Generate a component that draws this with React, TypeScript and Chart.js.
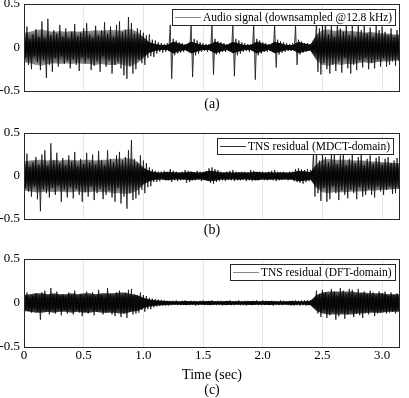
import React, { useEffect, useRef } from 'react';
import { Chart, registerables } from 'chart.js';
Chart.register(...registerables);

// ---------- data ----------
const SAMPLE_STEP = 0.0125; // s between successive waveform peaks
const BAND_STEP = 0.05; // s between dense-band envelope samples
const T_MAX = 3.15;
const X_TICK_STEP = 0.5;
const Y_MIN = -0.5;
const Y_MAX = 0.5;
const Y_TICK_STEP = 0.5;

const panelLabels = ['(a)', '(b)', '(c)'];
const xAxisLabel = 'Time (sec)';
const legendLabels = [
  'Audio signal (downsampled @12.8 kHz)',
  'TNS residual (MDCT-domain)',
  'TNS residual (DFT-domain)',
];

// (a) audio signal: signed peak values
const audioPeaks = [
  .18, -.12, .24, -.2, .09, -.25, .15, -.1, .21, -.17,
  .12, -.26, .3, -.15, .1, -.35, .33, -.2, .14, -.28,
  .2, -.12, .16, -.22, .26, -.1, .12, -.19, .22, -.15,
  .1, -.24, .18, -.14, .27, -.2, .13, -.27, .17, -.11,
  .22, -.18, .28, -.13, .15, -.26, .11, -.21, .25, -.16,
  .14, -.28, .2, -.1, .29, -.22, .16, -.15, .24, -.3,
  .12, -.2, .26, -.17, .3, -.24, .18, -.32, .2, -.36,
  .35, -.22, .28, -.3, .16, -.25, .22, -.14, .2, -.18,
  .17, -.2, .14, -.12, .15, -.1, .09, -.11, .08, -.07,
  .06, -.05, .05, -.06, .04, -.05, .05, -.04, .26, -.36,
  .1, -.09, .08, -.07, .06, -.06, .05, -.05, .04, -.04,
  .05, -.04, .27, -.34, .1, -.09, .08, -.07, .06, -.05,
  .05, -.04, .04, -.05, .04, -.04, .27, -.31, .1, -.08,
  .07, -.07, .06, -.05, .05, -.05, .04, -.04, .05, -.04,
  .26, -.33, .1, -.09, .08, -.07, .06, -.05, .05, -.04,
  .04, -.05, .04, -.04, .27, -.37, .1, -.09, .08, -.07,
  .06, -.05, .05, -.05, .04, -.04, .04, -.05, .27, -.23,
  .09, -.08, .07, -.06, .06, -.05, .05, -.04, .04, -.04,
  .05, -.04, .25, -.2, .09, -.08, .07, -.06, .05, -.05,
  .05, -.04, .04, -.05, .04, -.04, .3, -.28, .22, -.31,
  .26, -.18, .32, -.25, .15, -.3, .28, -.2, .12, -.27,
  .3, -.16, .22, -.29, .18, -.12, .27, -.24, .14, -.3,
  .25, -.2, .12, -.26, .28, -.15, .2, -.23, .26, -.12,
  .16, -.25, .23, -.18, .12, -.24, .26, -.14, .2, -.22,
  .24, -.12, .18, -.22, .14, -.2, .22, -.16, .12, -.21,
  .2, -.15,
];
// (a) half-width of the dense (dark) band
const audioBand = [
  .17, .18, .2, .21, .19, .18, .19, .18, .19, .18,
  .19, .19, .2, .19, .2, .2, .19, .21, .21, .18,
  .12, .06, .04, .03, .03, .07, .045, .03, .07, .045,
  .03, .03, .07, .045, .03, .065, .045, .03, .03, .07,
  .045, .03, .065, .05, .03, .03, .065, .045, .035, .15,
  .2, .21, .19, .2, .19, .19, .18, .17, .18, .17, .16, .16, .15, .15,
];

// (b) TNS residual, MDCT domain
const mdctPeaks = [
  .2, -.14, .26, -.18, .1, -.24, .16, -.12, .22, -.27,
  .13, -.41, .25, -.16, .3, -.2, .12, -.25, .38, -.14,
  .18, -.22, .27, -.11, .15, -.3, .21, -.16, .12, -.25,
  .24, -.13, .17, -.26, .28, -.15, .11, -.22, .2, -.3,
  .14, -.19, .27, -.24, .16, -.12, .25, -.28, .13, -.2,
  .29, -.15, .18, -.27, .12, -.22, .3, -.17, .2, -.25,
  .16, -.3, .24, -.14, .28, -.32, .18, -.24, .22, -.38,
  .3, -.2, .42, -.28, .2, -.26, .15, -.22, .24, -.16,
  .18, -.2, .15, -.13, .1, -.12, .08, -.07, .06, -.07,
  .05, -.06, .05, -.04, .06, -.05, .04, -.05, .08, -.07,
  .06, -.05, .05, -.06, .04, -.05, .05, -.04, .07, -.08,
  .06, -.07, .05, -.05, .04, -.05, .06, -.04, .05, -.06,
  .05, -.04, .06, -.05, .09, -.08, .1, -.09, .08, -.07,
  .07, -.06, .05, -.05, .04, -.06, .05, -.04, .06, -.05,
  .07, -.06, .05, -.05, .04, -.05, .05, -.04, .05, -.06,
  .04, -.05, .07, -.06, .06, -.05, .04, -.05, .05, -.04,
  .05, -.05, .04, -.05, .05, -.04, .06, -.05, .07, -.06,
  .05, -.05, .04, -.04, .05, -.04, .04, -.05, .05, -.04,
  .05, -.06, .08, -.07, .09, -.08, .08, -.09, .07, -.07,
  .08, -.06, .07, -.05, .28, -.24, .3, -.2, .18, -.29,
  .26, -.14, .22, -.3, .16, -.27, .25, -.12, .28, -.2,
  .14, -.28, .24, -.17, .3, -.22, .12, -.26, .2, -.16,
  .25, -.2, .15, -.27, .22, -.13, .27, -.24, .12, -.22,
  .2, -.15, .24, -.22, .14, -.25, .21, -.12, .23, -.18,
  .13, -.22, .2, -.16, .22, -.12, .15, -.21, .18, -.2,
  .21, -.14,
];
const mdctBand = [
  .17, .18, .19, .19, .18, .19, .18, .19, .19, .18,
  .19, .19, .18, .19, .19, .2, .2, .21, .2, .17,
  .1, .06, .045, .04, .05, .045, .04, .045, .05, .04,
  .045, .06, .055, .04, .045, .04, .045, .04, .045, .05,
  .04, .045, .04, .045, .04, .045, .06, .055, .045, .14,
  .19, .2, .19, .19, .19, .18, .18, .18, .17, .17, .16, .16, .15, .15,
];

// (c) TNS residual, DFT domain
const dftPeaks = [
  .1, -.07, .12, -.09, .05, -.11, .08, -.06, .11, -.1,
  .07, -.19, .12, -.08, .14, -.1, .06, -.13, .17, -.07,
  .09, -.12, .13, -.06, .08, -.14, .1, -.08, .06, -.12,
  .12, -.07, .09, -.13, .14, -.08, .06, -.11, .1, -.15,
  .07, -.1, .13, -.12, .08, -.06, .12, -.14, .07, -.1,
  .15, -.08, .09, -.13, .06, -.11, .17, -.09, .1, -.13,
  .08, -.15, .12, -.07, .14, -.16, .09, -.12, .11, -.17,
  .15, -.1, .16, -.13, .1, -.12, .08, -.11, .12, -.08,
  .09, -.1, .08, -.07, .06, -.07, .05, -.05, .045, -.04,
  .04, -.035, .035, -.03, .03, -.03, .025, -.03, .025, -.025,
  .025, -.02, .03, -.025, .02, -.025, .025, -.02, .03, -.025,
  .02, -.025, .025, -.02, .025, -.03, .02, -.025, .025, -.02,
  .03, -.025, .02, -.02, .025, -.025, .03, -.02, .02, -.025,
  .025, -.02, .025, -.03, .02, -.025, .025, -.02, .03, -.025,
  .02, -.025, .025, -.02, .03, -.025, .02, -.025, .025, -.03,
  .025, -.02, .02, -.025, .025, -.02, .03, -.025, .02, -.025,
  .03, -.025, .025, -.02, .02, -.025, .025, -.03, .025, -.02,
  .02, -.025, .03, -.025, .025, -.02, .02, -.025, .025, -.03,
  .025, -.03, .03, -.025, .025, -.03, .03, -.025, .03, -.03,
  .03, -.025, .03, -.03, .035, -.03, .14, -.12, .1, -.16,
  .15, -.08, .12, -.17, .09, -.14, .16, -.1, .13, -.19,
  .08, -.15, .17, -.11, .14, -.18, .1, -.13, .16, -.09,
  .15, -.16, .09, -.12, .16, -.14, .11, -.17, .13, -.1,
  .1, -.13, .14, -.09, .12, -.15, .08, -.12, .13, -.11,
  .11, -.09, .13, -.12, .08, -.11, .12, -.1, .09, -.12,
  .11, -.08,
];
const dftBand = [
  .09, .1, .11, .11, .1, .11, .1, .1, .11, .1,
  .11, .11, .1, .11, .11, .11, .12, .12, .1, .09,
  .06, .04, .03, .025, .022, .02, .02, .022, .02, .02,
  .02, .022, .02, .02, .022, .02, .02, .02, .022, .02,
  .02, .022, .02, .02, .02, .022, .02, .02, .025, .09,
  .12, .13, .13, .13, .13, .13, .12, .12, .11, .11, .11, .1, .1, .1,
];

// ---------- styling ----------
const SERIF = '"Liberation Serif", "Times New Roman", serif';
const FRAME = '#262626';
// darkness of the dense band as a function of |amplitude|
const BAND_SHADE: [number, number][] = [
  [0, 0.95], [0.05, 0.92], [0.1, 0.78], [0.15, 0.55], [0.22, 0.35],
];

function bandFill(context: any) {
  const chart = context.chart;
  const { chartArea, scales } = chart;
  if (!chartArea || !scales.y) return 'rgba(0,0,0,0.85)';
  const ys = scales.y;
  const lim = BAND_SHADE[BAND_SHADE.length - 1][0];
  const y0 = ys.getPixelForValue(lim);
  const y1 = ys.getPixelForValue(-lim);
  const g = chart.ctx.createLinearGradient(0, y0, 0, y1);
  for (const [v, a] of BAND_SHADE) {
    g.addColorStop((lim - v) / (2 * lim), `rgba(0,0,0,${a})`);
    g.addColorStop((lim + v) / (2 * lim), `rgba(0,0,0,${a})`);
  }
  return g;
}

type PanelProps = {
  peaks: number[];
  band: number[];
  legend: string;
  legendLine: string;
  legendRight: number;
  xTitle: string | string[];
  showTicks: boolean;
  top: number;
  height: number;
  areaTop: number;
  xAxisHeight: number;
  titlePad: number;
};

function Panel(p: PanelProps) {
  const ref = useRef<HTMLCanvasElement>(null);
  useEffect(() => {
    if (!ref.current) return;
    const peakPts = p.peaks.map((v, i) => ({ x: i * SAMPLE_STEP, y: v }));
    const bandHi = p.band.map((v, i) => ({ x: i * BAND_STEP, y: v }));
    const bandLo = p.band.map((v, i) => ({ x: i * BAND_STEP, y: -v }));

    const framePlugin = {
      id: 'frameAndLegend',
      afterDraw(chart: any) {
        const { ctx, chartArea } = chart;
        const { left, top, right, bottom } = chartArea;
        ctx.save();
        ctx.strokeStyle = FRAME;
        ctx.lineWidth = 1;
        ctx.strokeRect(Math.round(left) + 0.5, Math.round(top) + 0.5, Math.round(right - left) - 1, Math.round(bottom - top));
        // legend box
        ctx.font = `11.5px ${SERIF}`;
        const tw = ctx.measureText(p.legend).width;
        const w = Math.round(31 + tw + 3);
        const h = 16;
        const x = Math.round(right - p.legendRight - w);
        const y = Math.round(top + 5);
        ctx.fillStyle = '#fff';
        ctx.fillRect(x, y, w, h);
        ctx.strokeStyle = FRAME;
        ctx.strokeRect(x + 0.5, y + 0.5, w, h);
        ctx.strokeStyle = p.legendLine;
        ctx.beginPath();
        ctx.moveTo(x + 3, y + 8.5);
        ctx.lineTo(x + 29, y + 8.5);
        ctx.stroke();
        ctx.fillStyle = '#000';
        ctx.textBaseline = 'middle';
        ctx.textAlign = 'left';
        ctx.fillText(p.legend, x + 31, y + h / 2 + 1);
        ctx.restore();
      },
    };

    const chart = new Chart(ref.current, {
      type: 'line',
      data: {
        datasets: [
          {
            data: peakPts,
            borderColor: 'rgba(0,0,0,0.7)',
            backgroundColor: 'rgba(0,0,0,0.3)',
            borderWidth: 1,
            pointRadius: 0,
            fill: 'origin',
            tension: 0,
          },
          {
            data: bandHi,
            borderColor: 'rgba(0,0,0,0)',
            borderWidth: 0,
            pointRadius: 0,
            fill: false,
            tension: 0,
          },
          {
            data: bandLo,
            borderColor: 'rgba(0,0,0,0)',
            borderWidth: 0,
            pointRadius: 0,
            fill: '-1',
            backgroundColor: bandFill,
            tension: 0,
          },
        ],
      },
      options: {
        animation: false,
        responsive: false,
        maintainAspectRatio: false,
        events: [],
        layout: { padding: { left: 0, right: 9, top: p.areaTop, bottom: 0 } },
        plugins: { legend: { display: false }, tooltip: { enabled: false } },
        scales: {
          x: {
            type: 'linear',
            min: 0,
            max: T_MAX,
            ticks: {
              display: p.showTicks,
              stepSize: X_TICK_STEP,
              includeBounds: false,
              padding: 1,
              maxRotation: 0,
              autoSkip: false,
              color: '#000',
              font: { family: SERIF, size: 13 },
            },
            grid: { color: '#e6e6e6', drawTicks: false, lineWidth: 1 },
            border: { display: false },
            title: {
              display: true,
              text: p.xTitle,
              color: '#000',
              font: { family: SERIF, size: 14, lineHeight: 1.1 },
              padding: { top: 0, bottom: p.titlePad },
            },
            afterFit: (s: any) => {
              s.height = p.xAxisHeight;
              s.paddingLeft = 0;
              s.paddingRight = 0;
            },
          },
          y: {
            min: Y_MIN,
            max: Y_MAX,
            ticks: {
              stepSize: Y_TICK_STEP,
              padding: 4,
              color: '#000',
              font: { family: SERIF, size: 13 },
            },
            grid: { display: false, drawTicks: false },
            border: { display: false },
            afterFit: (s: any) => {
              s.width = 24;
              s.paddingTop = 0;
              s.paddingBottom = 0;
            },
          },
        },
      },
      plugins: [framePlugin],
    } as any);
    return () => chart.destroy();
  }, []);
  return (
    <canvas
      ref={ref}
      width={409}
      height={p.height}
      style={{ position: 'absolute', left: 0, top: p.top, width: 409, height: p.height }}
    />
  );
}

export default function App() {
  return (
    <div style={{ position: 'fixed', left: 0, top: 0, width: 409, height: 398, background: '#fff', overflow: 'hidden' }}>
      <Panel
        peaks={audioPeaks}
        band={audioBand}
        legend={legendLabels[0]}
        legendLine="#8a8a8a"
        legendRight={5}
        xTitle={panelLabels[0]}
        showTicks={false}
        top={0}
        height={118}
        areaTop={4}
        xAxisHeight={27}
        titlePad={6}
      />
      <Panel
        peaks={mdctPeaks}
        band={mdctBand}
        legend={legendLabels[1]}
        legendLine="#333"
        legendRight={7}
        xTitle={panelLabels[1]}
        showTicks={false}
        top={118}
        height={128}
        areaTop={15}
        xAxisHeight={27}
        titlePad={8}
      />
      <Panel
        peaks={dftPeaks}
        band={dftBand}
        legend={legendLabels[2]}
        legendLine="#8a8a8a"
        legendRight={5}
        xTitle={[xAxisLabel, panelLabels[2]]}
        showTicks={true}
        top={246}
        height={152}
        areaTop={13}
        xAxisHeight={51}
        titlePad={0}
      />
    </div>
  );
}
